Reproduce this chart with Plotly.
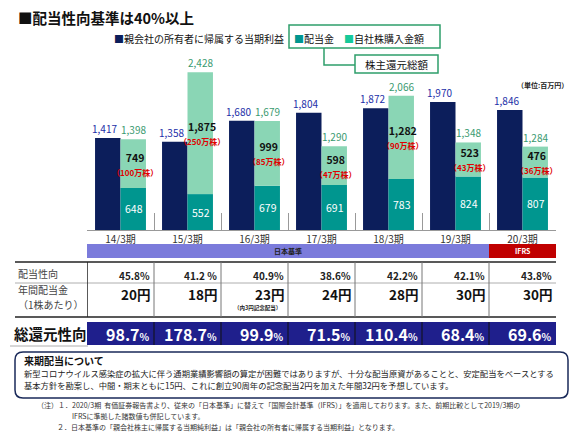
import plotly.graph_objects as go

# ---- data (百万円) ----
periods        = ['14/3期', '15/3期', '16/3期', '17/3期', '18/3期', '19/3期', '20/3期']
net_income     = [1417, 1358, 1680, 1804, 1872, 1970, 1846]   # 親会社の所有者に帰属する当期利益
dividends      = [648, 552, 679, 691, 783, 824, 807]          # 配当金
buybacks       = [749, 1875, 999, 598, 1282, 523, 476]        # 自社株購入金額
total_returns  = [1398, 2428, 1679, 1290, 2066, 1348, 1284]   # 株主還元総額
buyback_shares = ['100万株', '250万株', '85万株', '47万株', '90万株', '43万株', '36万株']
standards      = ['日本基準'] * 6 + ['IFRS']

payout_ratio   = ['45.8%', '41.2 %', '40.9%', '38.6%', '42.2%', '42.1%', '43.8%']
annual_dps     = ['20円', '18円', '23円', '24円', '28円', '30円', '30円']
dps_notes      = ['', '', '（内3円記念配当）', '', '', '', '']
total_payout   = ['98.7', '178.7', '99.9', '71.5', '110.4', '68.4', '69.6']

NAVY  = '#0C1E5B'
TEAL  = '#00968F'
MINT  = '#8AD6B5'
FONT  = 'Noto Sans CJK JP'

W, H = 581, 435
def px(x): return x / W
def py(y): return 1 - y / H

fig = go.Figure()

fig.add_trace(go.Bar(x=periods, y=net_income, offsetgroup='a',
                     marker=dict(color=NAVY, line_width=0), name='親会社の所有者に帰属する当期利益'))
fig.add_trace(go.Bar(x=periods, y=dividends, offsetgroup='b',
                     marker=dict(color=TEAL, line_width=0), name='配当金'))
fig.add_trace(go.Bar(x=periods, y=buybacks, base=dividends, offsetgroup='b',
                     marker=dict(color=MINT, line_width=0), name='自社株購入金額'))

ann = []
shapes = []

# bar labels
for p, ni, dv, bb, tot, sh in zip(periods, net_income, dividends, buybacks, total_returns, buyback_shares):
    ann.append(dict(x=p, y=ni, xshift=-16, yanchor='bottom', showarrow=False,
                    text=f'{ni:,}', font=dict(size=10, color='#2330A8')))
    ann.append(dict(x=p, y=dv + bb, xshift=13, yanchor='bottom', showarrow=False,
                    text=f'{tot:,}', font=dict(size=10, color='#3A9A70')))
    ann.append(dict(x=p, y=dv + bb / 2, xshift=14, yanchor='middle', showarrow=False,
                    text=f'<b>{bb:,}</b><br><span style="color:#E00000;font-size:8px"><b>（{sh}）</b></span>',
                    font=dict(size=10.5, color='#111111')))
    ann.append(dict(x=p, y=dv / 2, xshift=13, yanchor='middle', showarrow=False,
                    text=f'{dv:,}', font=dict(size=10.5, color='white')))

# standards band (日本基準 / IFRS)
idx = {p: i for i, p in enumerate(periods)}
for std, col, tcol in [('日本基準', '#7B7BDB', '#222222'), ('IFRS', '#C00000', 'white')]:
    members = [idx[p] for p, s in zip(periods, standards) if s == std]
    x0, x1 = min(members) - 0.5, max(members) + 0.5
    shapes.append(dict(type='rect', xref='x', yref='paper', x0=x0, x1=x1,
                       y0=py(258), y1=py(244), fillcolor=col, line_width=0))
    ann.append(dict(xref='x', yref='paper', x=(x0 + x1) / 2, y=py(251), yanchor='middle',
                    showarrow=False, text=f'<b>{std}</b>', font=dict(size=7, color=tcol)))

# ---- table ----
shapes.append(dict(type='line', xref='paper', yref='paper', x0=px(15), x1=px(556),
                   y0=py(262), y1=py(262), line=dict(color='#222', width=1.5)))
shapes.append(dict(type='line', xref='paper', yref='paper', x0=px(15), x1=px(556),
                   y0=py(283), y1=py(283), line=dict(color='#999', width=0.8)))
shapes.append(dict(type='line', xref='paper', yref='paper', x0=px(15), x1=px(556),
                   y0=py(317), y1=py(317), line=dict(color='#222', width=1.5)))
for i in range(len(periods)):
    shapes.append(dict(type='line', xref='x', yref='paper', x0=i - 0.5, x1=i - 0.5,
                       y0=py(262), y1=py(317),
                       line=dict(color='#222' if i == 0 else '#777', width=1.5 if i == 0 else 1)))
# 総還元性向 band
shapes.append(dict(type='rect', xref='x', yref='paper', x0=-0.5, x1=len(periods) - 0.5,
                   y0=py(345), y1=py(322), fillcolor='#1F1F8C', line_width=0))
for i in range(1, len(periods)):
    shapes.append(dict(type='line', xref='x', yref='paper', x0=i - 0.5, x1=i - 0.5,
                       y0=py(345), y1=py(322), line=dict(color='#111', width=1)))
shapes.append(dict(type='line', xref='paper', yref='paper', x0=px(10), x1=px(88),
                   y0=py(346), y1=py(346), line=dict(color='#999', width=0.8)))

for p, pr, dps, note, tp in zip(periods, payout_ratio, annual_dps, dps_notes, total_payout):
    ann.append(dict(xref='x', yref='paper', x=p, xshift=31, xanchor='right', y=py(275),
                    yanchor='middle', showarrow=False, text=f'<b>{pr}</b>',
                    font=dict(size=10, color='#222')))
    ann.append(dict(xref='x', yref='paper', x=p, xshift=31, xanchor='right', y=py(294),
                    yanchor='middle', showarrow=False, text=f'<b>{dps}</b>',
                    font=dict(size=13.5, color='#111')))
    if note:
        ann.append(dict(xref='x', yref='paper', x=p, xshift=28, xanchor='right', y=py(307.5),
                        yanchor='middle', showarrow=False, text=f'<b>{note}</b>',
                        font=dict(size=5.5, color='#222')))
    ann.append(dict(xref='x', yref='paper', x=p, xshift=31, xanchor='right', y=py(334),
                    yanchor='middle', showarrow=False,
                    text=f'<b>{tp}<span style="font-size:10px">%</span></b>',
                    font=dict(size=16, color='white')))

def label(x, y, text, size, color='#222', anchor='left'):
    ann.append(dict(xref='paper', yref='paper', x=px(x), y=py(y), xanchor=anchor, yanchor='middle',
                    showarrow=False, text=text, font=dict(size=size, color=color)))

label(16, 273, '配当性向', 10, '#444')
label(16, 289, '年間配当金', 10, '#444')
label(16, 304, '（1株あたり）', 10, '#444')
label(12, 333, '<b>総還元性向</b>', 14.5, '#111')

# ---- title / legend ----
label(16, 17, '<b>■配当性向基準は40%以上</b>', 14.5, '#111')
label(112, 38, f'<span style="color:{NAVY}">■</span>親会社の所有者に帰属する当期利益', 10, '#111')
shapes.append(dict(type='rect', xref='paper', yref='paper', x0=px(289), x1=px(440),
                   y0=py(48), y1=py(25), line=dict(color='#2E9E6B', width=1.5)))
label(292, 38, f'<span style="color:{TEAL}">■</span>配当金', 10, '#111')
label(342, 38, f'<span style="color:#16C99A">■</span>自社株購入金額', 10, '#111')
shapes.append(dict(type='path', xref='paper', yref='paper',
                   path=f'M {px(324)} {py(48)} L {px(324)} {py(65)} L {px(355)} {py(65)}',
                   line=dict(color='#2E9E6B', width=1.5)))
shapes.append(dict(type='rect', xref='paper', yref='paper', x0=px(355), x1=px(438),
                   y0=py(73), y1=py(55), line=dict(color='#2E9E6B', width=1.5)))
label(396.5, 64, '株主還元総額', 10.5, '#111', 'center')
label(570, 85, '<b>（単位:百万円）</b>', 7, '#222', 'right')

# ---- note box ----
r = 8
x0, x1, y0, y1 = px(15), px(568), py(398), py(352)
rx, ry = r / W, r / H
shapes.append(dict(type='path', xref='paper', yref='paper',
                   path=(f'M {x0 + rx} {y1} L {x1 - rx} {y1} Q {x1} {y1} {x1} {y1 - ry} '
                         f'L {x1} {y0 + ry} Q {x1} {y0} {x1 - rx} {y0} L {x0 + rx} {y0} '
                         f'Q {x0} {y0} {x0} {y0 + ry} L {x0} {y1 - ry} Q {x0} {y1} {x0 + rx} {y1} Z'),
                   line=dict(color='#1A2A5A', width=1.5)))
label(22, 360, '<b>来期配当について</b>', 10, '#111')
label(22, 373, '新型コロナウイルス感染症の拡大に伴う通期業績影響額の算定が困難ではありますが、'
               '十分な配当原資があることと、安定配当をベースとする', 8.3, '#222')
label(22, 385, '基本方針を勘案し、中間・期末ともに15円、これに創立90周年の記念配当2円を加えた'
               '年間32円を予想しています。', 8.3, '#222')

label(35, 405, '（注）１．2020/3期  有価証券報告書より、従来の「日本基準」に替えて「国際会計基準（IFRS）」'
               'を適用しております。また、前期比較として2019/3期の', 7, '#333')
label(70, 416, 'IFRSに準拠した諸数値も併記しています。', 7, '#333')
label(55, 427, '２．日本基準の「親会社株主に帰属する当期純利益」は「親会社の所有者に帰属する当期利益」となります。',
      7, '#333')

fig.update_layout(
    width=W, height=H,
    margin=dict(l=0, r=0, t=0, b=0),
    paper_bgcolor='white', plot_bgcolor='white',
    font=dict(family=FONT, color='#222'),
    barmode='group', bargap=0.24, bargroupgap=0,
    showlegend=False,
    xaxis=dict(domain=[px(87), px(556)], range=[-0.5, len(periods) - 0.5], type='category',
               showline=True, linecolor='#999', linewidth=1,
               ticks='inside', tickson='boundaries', ticklen=17, tickcolor='#999',
               tickfont=dict(size=10, color='#333'), showgrid=False, fixedrange=True),
    yaxis=dict(domain=[py(230), py(60)], range=[0, 170 / 0.065], visible=False,
               showgrid=False, fixedrange=True),
    annotations=ann,
    shapes=shapes,
)

fig.write_html('out.html', config={'displayModeBar': False},
               post_script="document.body.style.margin='0';")
